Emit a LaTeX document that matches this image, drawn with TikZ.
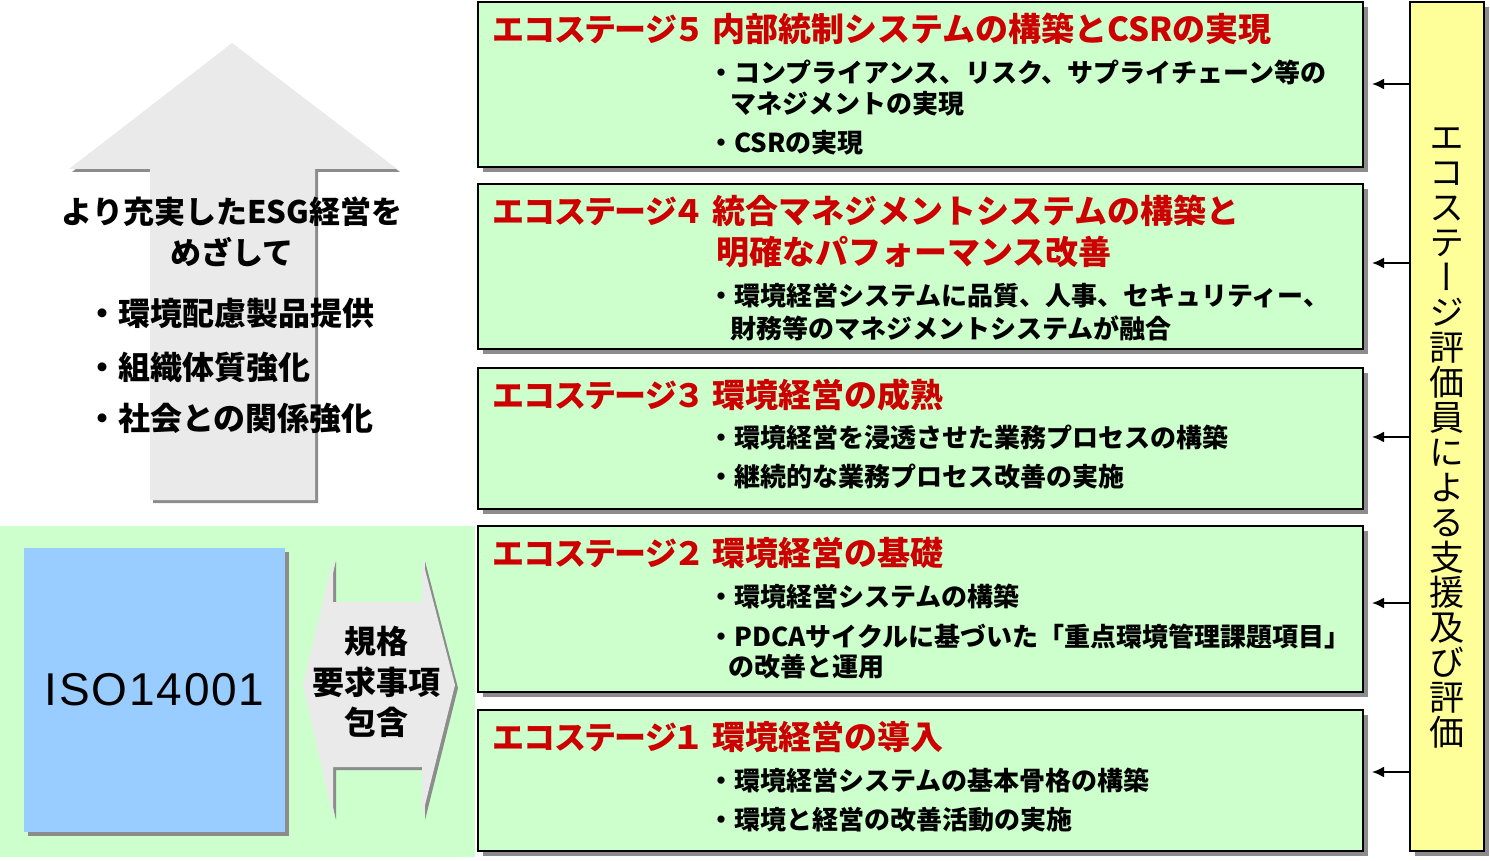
\documentclass[tikz,border=0pt]{standalone}
\usepackage{fontspec}
\setmainfont{Noto Sans CJK JP}
\newfontfamily\labelfont{Noto Sans CJK JP}[RawFeature=+palt]
\newfontfamily\vertfont{Noto Sans CJK JP}[RawFeature=+vert]
\newfontfamily\isofont{Liberation Sans}[LetterSpace=4]
\usetikzlibrary{arrows.meta,shadows}

\definecolor{stagegreen}{HTML}{CCFFCC}
\definecolor{stagered}{HTML}{CC0000}
\definecolor{arrowgray}{HTML}{EAEAEA}
\definecolor{shadowgray}{HTML}{8C8C8C}
\definecolor{isoblue}{HTML}{99CCFF}
\definecolor{evalyellow}{HTML}{FFFF99}

\begin{document}
\begin{tikzpicture}
[x=1pt,y=-1pt,
  stagebox/.style={draw,line width=2pt,fill=stagegreen,minimum width=885pt,inner sep=0pt,
    drop shadow={shadow xshift=5pt,shadow yshift=-5pt,fill=shadowgray,opacity=1}},
  stagetitle/.style={anchor=west,inner sep=0pt,text=stagered,
    font=\fontsize{33}{33}\selectfont\bfseries},
  stagelabel/.style={stagetitle,font=\labelfont\fontsize{32}{32}\selectfont\bfseries},
  stageitem/.style={anchor=west,inner sep=0pt,font=\fontsize{26}{26}\selectfont\bfseries},
  goaltext/.style={inner sep=0pt,font=\fontsize{31}{31}\selectfont\bfseries},
  evalarrow/.style={-{Latex[length=12pt,width=11pt]},line width=2pt}]
\useasboundingbox (0,0) rectangle (1490,861);
%% left: ISO area and the big arrow
\fill[stagegreen] (0,526) rectangle (475,857);
\fill[shadowgray,shift={(3,3)}] (232,43) -- (397,169) -- (315,169) -- (315,500)
  -- (150,500) -- (150,169) -- (69,169) -- cycle;
\fill[arrowgray] (232,43) -- (397,169) -- (315,169) -- (315,500)
  -- (150,500) -- (150,169) -- (69,169) -- cycle;
\node (goal1) at (232,212) [goaltext] {より充実したESG経営を};
\node (goal2) at (232,252) [goaltext] {めざして};
\foreach \goalname/\y/\goalitem in {g1/313/環境配慮製品提供, g2/367/組織体質強化,
  g3/418/社会との関係強化}
{
  \node (\goalname) at (86,\y) [goaltext,anchor=west,font=\fontsize{32}{32}\selectfont\bfseries] {・\goalitem};
}
\node (iso) at (154.5,690) [fill=isoblue,minimum width=261pt,minimum height=284pt,
  drop shadow={shadow xshift=4pt,shadow yshift=-4pt,fill=shadowgray,opacity=1},
  font=\isofont\fontsize{46}{46}\selectfont] {\raisebox{-3pt}{ISO14001}};
\fill[shadowgray,shift={(3,3)}] (303,685) -- (333,558) -- (333,602) -- (422,602)
  -- (422,558) -- (455,685) -- (422,817) -- (422,767) -- (333,767) -- (333,817) -- cycle;
\fill[arrowgray] (303,685) -- (333,558) -- (333,602) -- (422,602)
  -- (422,558) -- (455,685) -- (422,817) -- (422,767) -- (333,767) -- (333,817) -- cycle;
\node (req1) at (376,641) [goaltext,font=\fontsize{32}{32}\selectfont\bfseries] {規格};
\node (req2) at (376,682) [goaltext,font=\fontsize{32}{32}\selectfont\bfseries] {要求事項};
\node (req3) at (376,722) [goaltext,font=\fontsize{32}{32}\selectfont\bfseries] {包含};
%% stages
\foreach \boxname/\top/\bot/\num/\title in {
  five/2/167/５/内部統制システムの構築とCSRの実現,
  four/184/349/４/統合マネジメントシステムの構築と,
  three/368/509/３/環境経営の成熟,
  two/526/692/２/環境経営の基礎,
  one/710/851/１/環境経営の導入}
{
  \pgfmathsetmacro\boxh{\bot-\top}
  \pgfmathsetmacro\boxc{(\top+\bot)/2}
  \pgfmathsetmacro\titley{\top+27}
  \node (\boxname) at (920.5,\boxc) [stagebox,minimum height=\boxh pt] {};
  \node (label\boxname) at (493,\titley) [stagelabel] {エコステージ\num};
  \node (title\boxname) at (712,\titley) [stagetitle] {\title};
}
\node (titlefourb) at (716,252) [stagetitle] {明確なパフォーマンス改善};
\foreach \itemname/\x/\y/\itemtext in {
  fivea/708/72/・コンプライアンス、リスク、サプライチェーン等の,
  fiveb/730/104/マネジメントの実現,
  fivec/708/143/・CSRの実現,
  foura/708/296/・環境経営システムに品質、人事、セキュリティー、,
  fourb/730/328/財務等のマネジメントシステムが融合,
  threea/708/438/・環境経営を浸透させた業務プロセスの構築,
  threeb/708/477/・継続的な業務プロセス改善の実施,
  twoa/708/597/・環境経営システムの構築,
  twob/708/637/・PDCAサイクルに基づいた「重点環境管理課題項目」,
  twoc/728/667/の改善と運用,
  onea/708/781/・環境経営システムの基本骨格の構築,
  oneb/708/820/・環境と経営の改善活動の実施}
{
  \node (item\itemname) at (\x,\y) [stageitem] {\itemtext};
}
%% evaluator bar and arrows
\node (evalbar) at (1447,426.5) [draw,line width=2pt,fill=evalyellow,minimum width=74pt,
  minimum height=849pt,inner sep=0pt,
  drop shadow={shadow xshift=5pt,shadow yshift=-5pt,fill=shadowgray,opacity=1}] {};
\node (evaltext) at (1447,438) [align=center,inner sep=0pt,
  font=\vertfont\fontsize{35}{35}\selectfont]
  {エ\\コ\\ス\\テ\\ー\\ジ\\評\\価\\員\\に\\よ\\る\\支\\援\\及\\び\\評\\価};
\foreach \tipname/\y in {five/84, four/263, three/437, two/603, one/772}
{
  \coordinate (tip\tipname) at (1372,\y);
  \draw[evalarrow] (evalbar.west |- tip\tipname) -- (tip\tipname);
}
\end{tikzpicture}
\end{document}
